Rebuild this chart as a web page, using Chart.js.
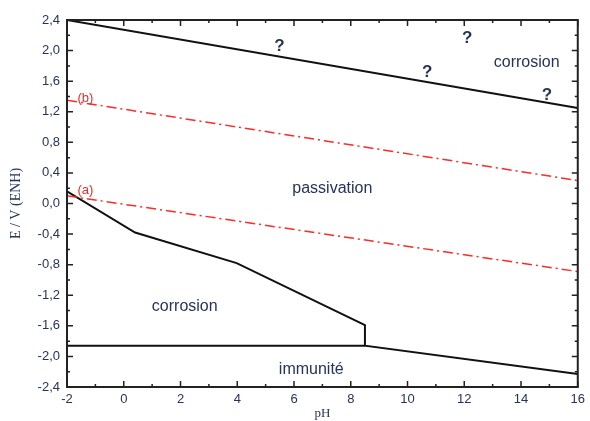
<!DOCTYPE html>
<html>
<head>
<meta charset="utf-8">
<script src="https://cdn.jsdelivr.net/npm/chart.js@4.4.0/dist/chart.umd.min.js"></script>
<style>
  html, body { margin: 0; padding: 0; background: #fff; }
  #wrap { width: 590px; height: 421px; }
</style>
</head>
<body>
<div id="wrap"><canvas id="myChart"></canvas></div>
<script>
// domain limits
let topLine = [{x: -2, y: 2.4}, {x: 16, y: 1.25}];
let lineB = [{x: -2, y: 1.35}, {x: 16, y: 0.30}];
let lineA = [{x: -2, y: 0.10}, {x: 16, y: -0.89}];
let lowerCurve = [
    {x: -2, y: 0.16}, {x: 0.4, y: -0.38}, {x: 3.98, y: -0.78},
    {x: 8.5, y: -1.59}, {x: 8.5, y: -1.86}, {x: 16, y: -2.23}
];
let immunityLine = [{x: -2, y: -1.86}, {x: 8.5, y: -1.86}];

let xTicks = [-2, 0, 2, 4, 6, 8, 10, 12, 14, 16];
let yTicks = [2.4, 2.0, 1.6, 1.2, 0.8, 0.4, 0.0, -0.4, -0.8, -1.2, -1.6, -2.0, -2.4];

// text in the regions (pH, E)
let regionLabels = [
    {text: '?', x: 5.49, y: 2.05, bold: true},
    {text: '?', x: 12.1, y: 2.16, bold: true},
    {text: '?', x: 10.69, y: 1.71, bold: true},
    {text: '?', x: 14.91, y: 1.42, bold: true},
    {text: 'corrosion', x: 14.2, y: 1.84},
    {text: 'passivation', x: 7.35, y: 0.20},
    {text: 'corrosion', x: 2.15, y: -1.35},
    {text: 'immunité', x: 6.61, y: -2.17}
];
let redLabels = [
    {text: '(b)', x: -1.35, y: 1.37},
    {text: '(a)', x: -1.35, y: 0.17}
];

const textColor = '#26335a';

// frame + inward ticks on all four sides, plus labels in the plot
const framePlugin = {
    id: 'frame',
    afterDatasetsDraw(chart) {
        const ctx = chart.ctx;
        const a = chart.chartArea;
        const xs = chart.scales.x, ys = chart.scales.y;
        ctx.save();
        ctx.strokeStyle = '#222';
        ctx.lineWidth = 2;
        ctx.strokeRect(a.left, a.top, a.right - a.left, a.bottom - a.top);

        ctx.lineWidth = 1.5;
        ctx.beginPath();
        for (let v = -2; v <= 16; v += 1) {
            const px = xs.getPixelForValue(v);
            const len = (v % 2 === 0) ? 6 : 3;
            ctx.moveTo(px, a.bottom); ctx.lineTo(px, a.bottom - len);
            ctx.moveTo(px, a.top); ctx.lineTo(px, a.top + len);
        }
        for (let i = -12; i <= 12; i++) {
            const v = i * 0.2;
            const py = ys.getPixelForValue(v);
            const len = (i % 2 === 0) ? 6 : 3;
            ctx.moveTo(a.left, py); ctx.lineTo(a.left + len, py);
            ctx.moveTo(a.right, py); ctx.lineTo(a.right - len, py);
        }
        ctx.stroke();

        ctx.textAlign = 'center';
        ctx.textBaseline = 'middle';
        regionLabels.forEach(l => {
            ctx.fillStyle = textColor;
            ctx.font = l.bold ? 'bold 17px "Liberation Sans", Arial' : '16px "Liberation Sans", Arial';
            ctx.fillText(l.text, xs.getPixelForValue(l.x), ys.getPixelForValue(l.y));
        });
        redLabels.forEach(l => {
            ctx.fillStyle = '#ff2020';
            ctx.font = '13px "Liberation Sans", Arial';
            ctx.fillText(l.text, xs.getPixelForValue(l.x), ys.getPixelForValue(l.y));
        });
        ctx.restore();
    }
};

function fmt(v) {
    return v.toFixed(1).replace('.', ',').replace('-0,0', '0,0');
}

new Chart(document.getElementById('myChart'), {
    type: 'scatter',
    data: {
        datasets: [
            {data: topLine, borderColor: '#111', borderWidth: 2},
            {data: lineB, borderColor: '#ff2a2a', borderWidth: 1.5, borderDash: [10, 4, 2, 4]},
            {data: lineA, borderColor: '#ff2a2a', borderWidth: 1.5, borderDash: [10, 4, 2, 4]},
            {data: lowerCurve, borderColor: '#111', borderWidth: 2},
            {data: immunityLine, borderColor: '#111', borderWidth: 2}
        ].map(d => Object.assign(d, {showLine: true, pointRadius: 0, fill: false, tension: 0}))
    },
    options: {
        responsive: true,
        maintainAspectRatio: false,
        animation: false,
        layout: {padding: {top: 20, right: 11, left: 0, bottom: 0}},
        plugins: {legend: {display: false}, tooltip: {enabled: false}},
        scales: {
            x: {
                type: 'linear', min: -2, max: 16,
                afterBuildTicks: s => { s.ticks = xTicks.map(v => ({value: v})); },
                afterFit: s => { s.height = 34; },
                grid: {display: false, drawTicks: false},
                border: {display: false},
                ticks: {color: textColor, font: {size: 13, family: '"Liberation Sans", Arial'}, padding: 5, maxRotation: 0},
                title: {display: true, text: 'pH', color: textColor, padding: {top: -3, bottom: 0},
                        font: {size: 13, family: '"Liberation Serif", serif'}}
            },
            y: {
                type: 'linear', min: -2.4, max: 2.4,
                afterBuildTicks: s => { s.ticks = yTicks.map(v => ({value: v})); },
                afterFit: s => { s.width = 67; },
                grid: {display: false, drawTicks: false},
                border: {display: false},
                ticks: {color: textColor, font: {size: 13, family: '"Liberation Sans", Arial'}, padding: 7,
                        callback: v => fmt(v)},
                title: {display: true, text: 'E / V (ENH)', color: textColor, padding: {top: 8, bottom: 0},
                        font: {size: 14, family: '"Liberation Serif", serif'}}
            }
        }
    },
    plugins: [framePlugin]
});
</script>
</body>
</html>
